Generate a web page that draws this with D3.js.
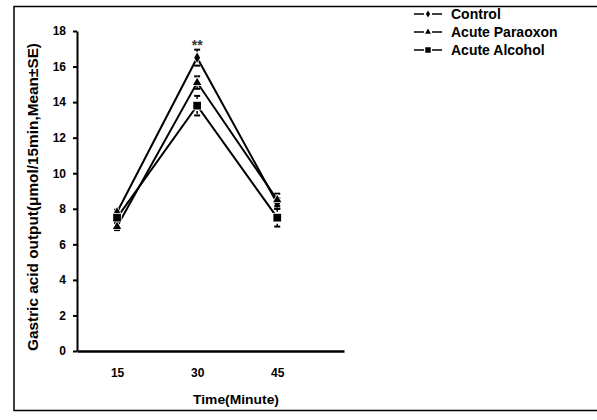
<!DOCTYPE html>
<html><head><meta charset="utf-8">
<script src="https://cdn.jsdelivr.net/npm/d3@7"></script>
<style>body{margin:0;background:#fff}svg{display:block}text{font-family:"Liberation Sans",Arial,sans-serif;font-weight:bold;fill:#000}</style>
</head><body><svg id="c" width="597" height="420"></svg>
<script>
const times = [15, 30, 45];
const seriesNames = ["Control", "Acute Paraoxon", "Acute Alcohol"];
const controlMean = [7.8, 16.5, 8.3];
const controlSE = [0.15, 0.45, 0.3];
const paraoxonMean = [7.0, 15.1, 8.5];
const paraoxonSE = [0.2, 0.35, 0.35];
const alcoholMean = [7.5, 13.8, 7.5];
const alcoholSE = [0.2, 0.55, 0.5];
const yTicks = [0, 2, 4, 6, 8, 10, 12, 14, 16, 18];
const xTickLabels = ["15", "30", "45"];
const markers = ["diamond", "triangle", "square"];

const series = [
  {name: seriesNames[0], mean: controlMean, se: controlSE, marker: markers[0]},
  {name: seriesNames[1], mean: paraoxonMean, se: paraoxonSE, marker: markers[1]},
  {name: seriesNames[2], mean: alcoholMean, se: alcoholSE, marker: markers[2]}
];

const svg = d3.select("#c");
// outer frame
svg.append("rect").attr("x", 14).attr("y", 6.5).attr("width", 600).attr("height", 404)
  .attr("fill", "none").attr("stroke", "#000").attr("stroke-width", 1.5);

const x = d3.scaleLinear().domain([7.5, 57.5]).range([77, 344]);
const y = d3.scaleLinear().domain([0, 18]).range([351, 31]);

const gy = svg.append("g").attr("transform", "translate(77,0)")
  .call(d3.axisLeft(y).tickValues(yTicks).tickSize(4).tickSizeOuter(0).tickPadding(7));
gy.select(".domain").attr("stroke-width", 2);
gy.selectAll(".tick line").attr("stroke-width", 2);
gy.selectAll("text").attr("font-size", 12).attr("font-family", "Liberation Sans, Arial").attr("font-weight", "bold").attr("fill", "#000");

const gx = svg.append("g").attr("transform", "translate(0,351)")
  .call(d3.axisBottom(x).tickValues(times).tickFormat((d, i) => xTickLabels[i]).tickSize(0).tickSizeOuter(0).tickPadding(17));
gx.select(".domain").attr("stroke-width", 2.5);
gx.selectAll("text").attr("font-size", 12).attr("font-family", "Liberation Sans, Arial").attr("font-weight", "bold").attr("fill", "#000");

svg.append("text").attr("x", 236).attr("y", 404).attr("text-anchor", "middle")
  .attr("font-size", 13).attr("textLength", 86).attr("lengthAdjust", "spacingAndGlyphs").text("Time(Minute)");
svg.append("text").attr("transform", "translate(38,197) rotate(-90)").attr("text-anchor", "middle")
  .attr("font-size", 14).attr("textLength", 308).attr("lengthAdjust", "spacingAndGlyphs")
  .text("Gastric acid output(μmol/15min,Mean±SE)");

const symType = {diamond: d3.symbolDiamond, triangle: d3.symbolTriangle, square: d3.symbolSquare};
const symSize = {diamond: 30, triangle: 30, square: 60};

const line = d3.line().x((d, i) => x(times[i])).y(d => y(d));
series.forEach(s => {
  svg.append("path").attr("d", line(s.mean)).attr("fill", "none").attr("stroke", "#000").attr("stroke-width", 2);
});
series.forEach(s => {
  s.mean.forEach((m, i) => {
    const cx = x(times[i]);
    const g = svg.append("g");
    g.append("line").attr("x1", cx).attr("x2", cx).attr("y1", y(m + s.se[i])).attr("y2", y(m - s.se[i]))
      .attr("stroke", "#000").attr("stroke-width", 1.5).attr("stroke-dasharray", "3,2");
    [m + s.se[i], m - s.se[i]].forEach(v => {
      g.append("line").attr("x1", cx - 3).attr("x2", cx + 3).attr("y1", y(v)).attr("y2", y(v))
        .attr("stroke", "#000").attr("stroke-width", 2);
    });
    g.append("path").attr("d", d3.symbol().type(symType[s.marker]).size(symSize[s.marker])())
      .attr("transform", `translate(${cx},${y(m)})`).attr("fill", "#000")
      .attr("stroke", "#fff").attr("stroke-width", 1.5).attr("paint-order", "stroke");
  });
});

svg.append("text").attr("x", x(30)).attr("y", 50).attr("text-anchor", "middle")
  .attr("font-size", 14).attr("fill", "#333").style("fill", "#333").text("**");

// legend
const leg = svg.append("g");
series.forEach((s, i) => {
  const ly = 14 + i * 18;
  leg.append("line").attr("x1", 414).attr("x2", 424).attr("y1", ly).attr("y2", ly).attr("stroke", "#000").attr("stroke-width", 1.5);
  leg.append("line").attr("x1", 432).attr("x2", 442).attr("y1", ly).attr("y2", ly).attr("stroke", "#000").attr("stroke-width", 1.5);
  leg.append("path").attr("d", d3.symbol().type(symType[s.marker]).size(symSize[s.marker] * 0.5)())
    .attr("transform", `translate(428,${ly})`).attr("fill", "#000");
  leg.append("text").attr("x", 451).attr("y", ly + 5).attr("font-size", 14).text(s.name);
});
</script></body></html>
